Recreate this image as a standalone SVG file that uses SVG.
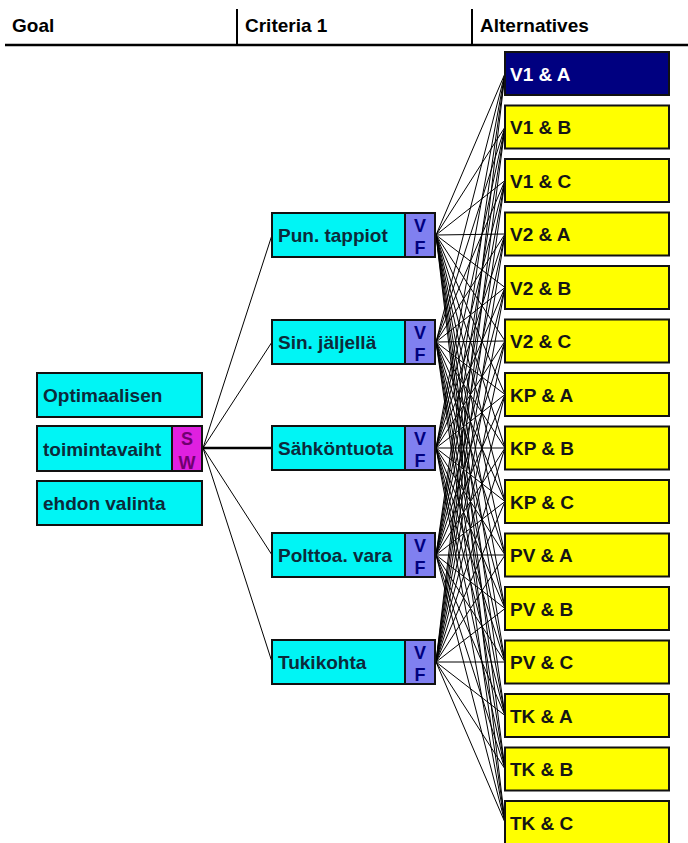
<svg xmlns="http://www.w3.org/2000/svg" width="688" height="843" viewBox="0 0 688 843">
<style>
text{font-family:"Liberation Sans",Arial,sans-serif;font-weight:bold;font-size:19px}
.hdr{fill:#000}
.cy{fill:#00f5f5}
.ye{fill:#ffff00}
.nv{fill:#000080}
.vf{fill:#8080f0}
.sw{fill:#e020e0}
.ol{fill:none;stroke:#111;stroke-width:2}
.tc{fill:#0c2a3a}
.ty{fill:#151515}
.tw{fill:#ffffff}
.lv{fill:#000080;font-size:18px}
.ls{fill:#700070;font-size:18px}
.cn line{stroke:#000;stroke-width:1}
</style>
<rect width="688" height="843" fill="#fff"/>
<g id="header">
<line x1="5" y1="45" x2="688" y2="45" stroke="#000" stroke-width="2.5"/>
<line x1="237" y1="9" x2="237" y2="45" stroke="#000" stroke-width="2"/>
<line x1="472" y1="9" x2="472" y2="45" stroke="#000" stroke-width="2"/>
<text class="hdr" x="12" y="32">Goal</text>
<text class="hdr" x="245" y="32">Criteria 1</text>
<text class="hdr" x="480" y="32">Alternatives</text>
</g>
<g class="cn" id="connectors">
<line x1="203" y1="448" x2="272" y2="235"/>
<line x1="203" y1="448" x2="272" y2="342"/>
<line x1="203" y1="448" x2="272" y2="448" style="stroke-width:2.5"/>
<line x1="203" y1="448" x2="272" y2="555"/>
<line x1="203" y1="448" x2="272" y2="662"/>
<g id="c1">
<line x1="436" y1="235" x2="505" y2="73.5"/><line x1="436" y1="235" x2="505" y2="127"/><line x1="436" y1="235" x2="505" y2="180.5"/><line x1="436" y1="235" x2="505" y2="234"/><line x1="436" y1="235" x2="505" y2="287.5"/><line x1="436" y1="235" x2="505" y2="341"/><line x1="436" y1="235" x2="505" y2="394.5"/><line x1="436" y1="235" x2="505" y2="448"/><line x1="436" y1="235" x2="505" y2="501.5"/><line x1="436" y1="235" x2="505" y2="555"/><line x1="436" y1="235" x2="505" y2="608.5"/><line x1="436" y1="235" x2="505" y2="662"/><line x1="436" y1="235" x2="505" y2="715.5"/><line x1="436" y1="235" x2="505" y2="769"/><line x1="436" y1="235" x2="505" y2="822.5"/>
</g>
<g id="c2">
<line x1="436" y1="342" x2="505" y2="73.5"/><line x1="436" y1="342" x2="505" y2="127"/><line x1="436" y1="342" x2="505" y2="180.5"/><line x1="436" y1="342" x2="505" y2="234"/><line x1="436" y1="342" x2="505" y2="287.5"/><line x1="436" y1="342" x2="505" y2="341"/><line x1="436" y1="342" x2="505" y2="394.5"/><line x1="436" y1="342" x2="505" y2="448"/><line x1="436" y1="342" x2="505" y2="501.5"/><line x1="436" y1="342" x2="505" y2="555"/><line x1="436" y1="342" x2="505" y2="608.5"/><line x1="436" y1="342" x2="505" y2="662"/><line x1="436" y1="342" x2="505" y2="715.5"/><line x1="436" y1="342" x2="505" y2="769"/><line x1="436" y1="342" x2="505" y2="822.5"/>
</g>
<g id="c3">
<line x1="436" y1="448" x2="505" y2="73.5"/><line x1="436" y1="448" x2="505" y2="127"/><line x1="436" y1="448" x2="505" y2="180.5"/><line x1="436" y1="448" x2="505" y2="234"/><line x1="436" y1="448" x2="505" y2="287.5"/><line x1="436" y1="448" x2="505" y2="341"/><line x1="436" y1="448" x2="505" y2="394.5"/><line x1="436" y1="448" x2="505" y2="448"/><line x1="436" y1="448" x2="505" y2="501.5"/><line x1="436" y1="448" x2="505" y2="555"/><line x1="436" y1="448" x2="505" y2="608.5"/><line x1="436" y1="448" x2="505" y2="662"/><line x1="436" y1="448" x2="505" y2="715.5"/><line x1="436" y1="448" x2="505" y2="769"/><line x1="436" y1="448" x2="505" y2="822.5"/>
</g>
<g id="c4">
<line x1="436" y1="555" x2="505" y2="73.5"/><line x1="436" y1="555" x2="505" y2="127"/><line x1="436" y1="555" x2="505" y2="180.5"/><line x1="436" y1="555" x2="505" y2="234"/><line x1="436" y1="555" x2="505" y2="287.5"/><line x1="436" y1="555" x2="505" y2="341"/><line x1="436" y1="555" x2="505" y2="394.5"/><line x1="436" y1="555" x2="505" y2="448"/><line x1="436" y1="555" x2="505" y2="501.5"/><line x1="436" y1="555" x2="505" y2="555"/><line x1="436" y1="555" x2="505" y2="608.5"/><line x1="436" y1="555" x2="505" y2="662"/><line x1="436" y1="555" x2="505" y2="715.5"/><line x1="436" y1="555" x2="505" y2="769"/><line x1="436" y1="555" x2="505" y2="822.5"/>
</g>
<g id="c5">
<line x1="436" y1="662" x2="505" y2="73.5"/><line x1="436" y1="662" x2="505" y2="127"/><line x1="436" y1="662" x2="505" y2="180.5"/><line x1="436" y1="662" x2="505" y2="234"/><line x1="436" y1="662" x2="505" y2="287.5"/><line x1="436" y1="662" x2="505" y2="341"/><line x1="436" y1="662" x2="505" y2="394.5"/><line x1="436" y1="662" x2="505" y2="448"/><line x1="436" y1="662" x2="505" y2="501.5"/><line x1="436" y1="662" x2="505" y2="555"/><line x1="436" y1="662" x2="505" y2="608.5"/><line x1="436" y1="662" x2="505" y2="662"/><line x1="436" y1="662" x2="505" y2="715.5"/><line x1="436" y1="662" x2="505" y2="769"/><line x1="436" y1="662" x2="505" y2="822.5"/>
</g>
</g>
<g id="goal">
<g id="g1"><rect class="cy" x="37" y="373" width="165" height="44"/><rect class="ol" x="37" y="373" width="165" height="44"/><text class="tc" x="43" y="402">Optimaalisen</text></g>
<g id="g2"><rect class="cy" x="37" y="426" width="135" height="45"/><rect class="sw" x="172" y="426" width="30" height="45"/><text class="tc" x="43" y="456">toimintavaiht</text><text class="ls" x="187" y="445" text-anchor="middle">S</text><text class="ls" x="187" y="469" text-anchor="middle">W</text><rect class="ol" x="37" y="426" width="165" height="45"/><line x1="172" y1="426" x2="172" y2="471" stroke="#111" stroke-width="2"/></g>
<g id="g3"><rect class="cy" x="37" y="481" width="165" height="44"/><rect class="ol" x="37" y="481" width="165" height="44"/><text class="tc" x="43" y="510">ehdon valinta</text></g>
</g>
<g id="cr1"><rect class="cy" x="272" y="213" width="133" height="44"/><rect class="vf" x="405" y="213" width="30" height="44"/><text class="tc" x="278" y="242">Pun. tappiot</text><text class="lv" x="420" y="232" text-anchor="middle">V</text><text class="lv" x="420" y="254" text-anchor="middle">F</text><rect class="ol" x="272" y="213" width="163" height="44"/><line x1="405" y1="213" x2="405" y2="257" stroke="#111" stroke-width="2"/></g>
<g id="cr2"><rect class="cy" x="272" y="320" width="133" height="44"/><rect class="vf" x="405" y="320" width="30" height="44"/><text class="tc" x="278" y="349">Sin. jäljellä</text><text class="lv" x="420" y="339" text-anchor="middle">V</text><text class="lv" x="420" y="361" text-anchor="middle">F</text><rect class="ol" x="272" y="320" width="163" height="44"/><line x1="405" y1="320" x2="405" y2="364" stroke="#111" stroke-width="2"/></g>
<g id="cr3"><rect class="cy" x="272" y="426" width="133" height="44"/><rect class="vf" x="405" y="426" width="30" height="44"/><text class="tc" x="278" y="455">Sähköntuota</text><text class="lv" x="420" y="445" text-anchor="middle">V</text><text class="lv" x="420" y="467" text-anchor="middle">F</text><rect class="ol" x="272" y="426" width="163" height="44"/><line x1="405" y1="426" x2="405" y2="470" stroke="#111" stroke-width="2"/></g>
<g id="cr4"><rect class="cy" x="272" y="533" width="133" height="44"/><rect class="vf" x="405" y="533" width="30" height="44"/><text class="tc" x="278" y="562">Polttoa. vara</text><text class="lv" x="420" y="552" text-anchor="middle">V</text><text class="lv" x="420" y="574" text-anchor="middle">F</text><rect class="ol" x="272" y="533" width="163" height="44"/><line x1="405" y1="533" x2="405" y2="577" stroke="#111" stroke-width="2"/></g>
<g id="cr5"><rect class="cy" x="272" y="640" width="133" height="44"/><rect class="vf" x="405" y="640" width="30" height="44"/><text class="tc" x="278" y="669">Tukikohta</text><text class="lv" x="420" y="659" text-anchor="middle">V</text><text class="lv" x="420" y="681" text-anchor="middle">F</text><rect class="ol" x="272" y="640" width="163" height="44"/><line x1="405" y1="640" x2="405" y2="684" stroke="#111" stroke-width="2"/></g>
<g id="a1"><rect class="nv" x="505" y="52" width="164" height="43"/><rect class="ol" x="505" y="52" width="164" height="43"/><text class="tw" x="510" y="80.5">V1 &amp; A</text></g>
<g id="a2"><rect class="ye" x="505" y="105.5" width="164" height="43"/><rect class="ol" x="505" y="105.5" width="164" height="43"/><text class="ty" x="510" y="134">V1 &amp; B</text></g>
<g id="a3"><rect class="ye" x="505" y="159" width="164" height="43"/><rect class="ol" x="505" y="159" width="164" height="43"/><text class="ty" x="510" y="187.5">V1 &amp; C</text></g>
<g id="a4"><rect class="ye" x="505" y="212.5" width="164" height="43"/><rect class="ol" x="505" y="212.5" width="164" height="43"/><text class="ty" x="510" y="241">V2 &amp; A</text></g>
<g id="a5"><rect class="ye" x="505" y="266" width="164" height="43"/><rect class="ol" x="505" y="266" width="164" height="43"/><text class="ty" x="510" y="294.5">V2 &amp; B</text></g>
<g id="a6"><rect class="ye" x="505" y="319.5" width="164" height="43"/><rect class="ol" x="505" y="319.5" width="164" height="43"/><text class="ty" x="510" y="348">V2 &amp; C</text></g>
<g id="a7"><rect class="ye" x="505" y="373" width="164" height="43"/><rect class="ol" x="505" y="373" width="164" height="43"/><text class="ty" x="510" y="401.5">KP &amp; A</text></g>
<g id="a8"><rect class="ye" x="505" y="426.5" width="164" height="43"/><rect class="ol" x="505" y="426.5" width="164" height="43"/><text class="ty" x="510" y="455">KP &amp; B</text></g>
<g id="a9"><rect class="ye" x="505" y="480" width="164" height="43"/><rect class="ol" x="505" y="480" width="164" height="43"/><text class="ty" x="510" y="508.5">KP &amp; C</text></g>
<g id="a10"><rect class="ye" x="505" y="533.5" width="164" height="43"/><rect class="ol" x="505" y="533.5" width="164" height="43"/><text class="ty" x="510" y="562">PV &amp; A</text></g>
<g id="a11"><rect class="ye" x="505" y="587" width="164" height="43"/><rect class="ol" x="505" y="587" width="164" height="43"/><text class="ty" x="510" y="615.5">PV &amp; B</text></g>
<g id="a12"><rect class="ye" x="505" y="640.5" width="164" height="43"/><rect class="ol" x="505" y="640.5" width="164" height="43"/><text class="ty" x="510" y="669">PV &amp; C</text></g>
<g id="a13"><rect class="ye" x="505" y="694" width="164" height="43"/><rect class="ol" x="505" y="694" width="164" height="43"/><text class="ty" x="510" y="722.5">TK &amp; A</text></g>
<g id="a14"><rect class="ye" x="505" y="747.5" width="164" height="43"/><rect class="ol" x="505" y="747.5" width="164" height="43"/><text class="ty" x="510" y="776">TK &amp; B</text></g>
<g id="a15"><rect class="ye" x="505" y="801" width="164" height="43"/><rect class="ol" x="505" y="801" width="164" height="43"/><text class="ty" x="510" y="829.5">TK &amp; C</text></g>
</svg>
